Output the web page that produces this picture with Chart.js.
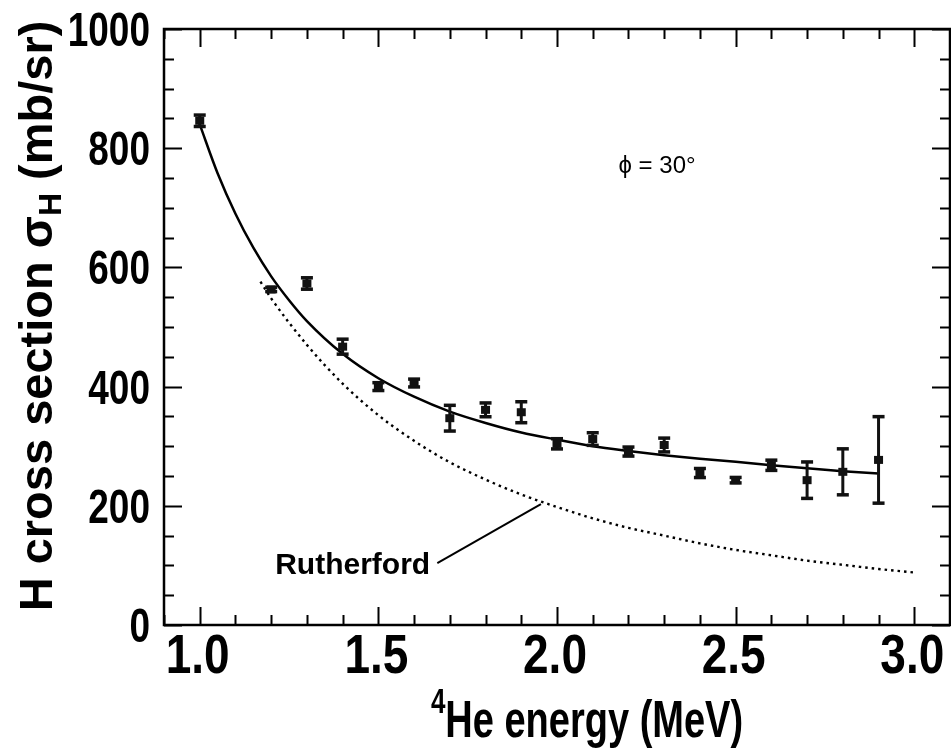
<!DOCTYPE html>
<html>
<head>
<meta charset="utf-8">
<script src="https://cdn.jsdelivr.net/npm/chart.js@4.4.1/dist/chart.umd.min.js"></script>
<style>
  html, body { margin: 0; padding: 0; background: #fff; }
  #c { display: block; }
</style>
</head>
<body>
<canvas id="c" width="951" height="752"></canvas>
<script>
// Measured H cross sections (mb/sr) at phi = 30 deg, with one-sigma errors
const energy   = [1.0, 1.2, 1.3, 1.4, 1.5, 1.6, 1.7, 1.8, 1.9, 2.0, 2.1, 2.2, 2.3, 2.4, 2.5, 2.6, 2.7, 2.8, 2.9];
const sigma    = [846, 563, 573, 467, 400, 406, 347, 361, 357, 304, 312, 291, 302, 255, 243, 268, 243, 257, 277];
const sigmaErr = [ 10,   4,  10,  13,   7,   7,  22,  12,  18,   9,  11,   8,  12,   8,   5,   9,  31,  39,  73];

// Smooth fit through the measurements
const fitEnergy = [1.0, 1.05, 1.1, 1.15, 1.2, 1.25, 1.3, 1.4, 1.5, 1.6, 1.7, 1.8, 1.9, 2.0, 2.1, 2.2, 2.3, 2.4, 2.5, 2.6, 2.7, 2.8, 2.9];
const fitSigma  = [840, 758, 690, 633, 585, 545, 510, 455, 414, 383, 358, 339, 323, 311, 300, 292, 285, 279, 274, 268, 263, 258, 254];

// Rutherford cross section
const rutherfordEnergy = [1.17, 1.2, 1.3, 1.4, 1.5, 1.6, 1.7, 1.8, 1.9, 2.0, 2.1, 2.2, 2.3, 2.4, 2.5, 2.6, 2.7, 2.8, 2.9, 3.0];
const rutherfordSigma  = [576, 548, 470, 405, 352, 309, 273, 244, 219, 198, 179, 163, 150, 137, 126, 117, 108, 101, 94, 88];

// Leader from the "Rutherford" label to its curve
const leaderEnergy = [1.665, 1.955];
const leaderSigma  = [104, 203];

const xTicks = [1.0, 1.5, 2.0, 2.5, 3.0];
const yTicks = [0, 200, 400, 600, 800, 1000];

const FONT = '"Liberation Sans", Arial, Helvetica, sans-serif';
const toPts = (xs, ys) => xs.map((x, i) => ({ x: x, y: ys[i] }));

// Text drawn with a vertical stretch (tall, narrow lettering)
function tallText(ctx, text, x, y, font, k, align) {
  ctx.save();
  ctx.translate(x, y);
  ctx.scale(1, k);
  ctx.font = font;
  ctx.textAlign = align;
  ctx.textBaseline = 'alphabetic';
  ctx.fillText(text, 0, 0);
  ctx.restore();
}

// Frame with inward ticks on all four sides
const framePlugin = {
  id: 'frame',
  afterDatasetsDraw(chart) {
    const { ctx, chartArea: a, scales: { x, y } } = chart;
    ctx.save();
    ctx.strokeStyle = '#000';
    ctx.lineWidth = 2.5;
    ctx.strokeRect(a.left, a.top, a.right - a.left, a.bottom - a.top);
    ctx.lineWidth = 2;
    ctx.beginPath();
    for (let i = 9; i <= 31; i++) {
      const px = Math.round(x.getPixelForValue(i / 10)) + 0.5;
      const len = (i % 5 === 0) ? 18 : 10;
      ctx.moveTo(px, a.bottom); ctx.lineTo(px, a.bottom - len);
      ctx.moveTo(px, a.top); ctx.lineTo(px, a.top + len);
    }
    for (let v = 0; v <= 1000; v += 50) {
      const py = Math.round(y.getPixelForValue(v)) + 0.5;
      const len = (v % 200 === 0) ? 18 : 10;
      ctx.moveTo(a.left, py); ctx.lineTo(a.left + len, py);
      ctx.moveTo(a.right, py); ctx.lineTo(a.right - len, py);
    }
    ctx.stroke();
    ctx.restore();
  }
};

// Error bars and markers for the measurements
const errorBarPlugin = {
  id: 'errorBars',
  afterDatasetsDraw(chart) {
    const { ctx, scales: { x, y } } = chart;
    ctx.save();
    ctx.fillStyle = '#111';
    ctx.strokeStyle = '#111';
    energy.forEach((e, i) => {
      const px = x.getPixelForValue(e);
      const py = y.getPixelForValue(sigma[i]);
      const top = y.getPixelForValue(sigma[i] + sigmaErr[i]);
      const bot = y.getPixelForValue(sigma[i] - sigmaErr[i]);
      ctx.lineWidth = 3;
      ctx.beginPath();
      ctx.moveTo(px, top); ctx.lineTo(px, bot);
      ctx.stroke();
      ctx.fillRect(px - 6, top - 1.5, 12, 3.5);
      ctx.fillRect(px - 6, bot - 2, 12, 3.5);
      ctx.fillRect(px - 4.5, py - 4, 9, 8);
    });
    ctx.restore();
  }
};

// Tick labels, axis titles and annotations
const textPlugin = {
  id: 'texts',
  afterDraw(chart) {
    const { ctx, chartArea: a, scales: { x, y } } = chart;
    ctx.save();
    ctx.fillStyle = '#000';

    // tick labels
    y.ticks.forEach(t => {
      tallText(ctx, String(t.value), a.left - 14, y.getPixelForValue(t.value) + 17,
               'bold 37px ' + FONT, 1.3, 'right');
    });
    x.ticks.forEach(t => {
      tallText(ctx, t.value.toFixed(1), x.getPixelForValue(t.value) - 2, a.bottom + 48,
               'bold 46px ' + FONT, 1.2, 'center');
    });

    // y title with subscript
    const big = 'bold 47px ' + FONT, small = 'bold 32px ' + FONT;
    const segs = [
      { t: 'H cross section \u03C3', f: big, dy: 0 },
      { t: 'H', f: small, dy: 9 },
      { t: ' (mb/sr)', f: big, dy: 0 }
    ];
    let total = 0;
    segs.forEach(s => { ctx.font = s.f; s.w = ctx.measureText(s.t).width; total += s.w; });
    ctx.save();
    ctx.translate(52, 316);
    ctx.rotate(-Math.PI / 2);
    ctx.textBaseline = 'alphabetic';
    let cx = -total / 2;
    segs.forEach(s => { ctx.font = s.f; ctx.fillText(s.t, cx, s.dy); cx += s.w; });
    ctx.restore();

    // x title with superscript
    const xs = [
      { t: '4', f: 'bold 26px ' + FONT, dy: -24 },
      { t: 'He energy (MeV)', f: 'bold 38px ' + FONT, dy: 0 }
    ];
    total = 0;
    xs.forEach(s => { ctx.font = s.f; s.w = ctx.measureText(s.t).width; total += s.w; });
    cx = 587 - total / 2;
    xs.forEach(s => {
      tallText(ctx, s.t, cx, 737 + s.dy, s.f, 1.35, 'left');
      cx += s.w;
    });

    // angle label
    ctx.font = '24px ' + FONT;
    ctx.textAlign = 'center';
    ctx.textBaseline = 'alphabetic';
    ctx.fillText('\u03D5 = 30\u00B0', x.getPixelForValue(2.28), y.getPixelForValue(758));

    // curve label
    ctx.font = 'bold 30px ' + FONT;
    ctx.textAlign = 'right';
    ctx.fillText('Rutherford', x.getPixelForValue(1.645), y.getPixelForValue(86));
    ctx.restore();
  }
};

new Chart(document.getElementById('c'), {
  type: 'scatter',
  data: {
    datasets: [
      {
        label: 'fit',
        data: toPts(fitEnergy, fitSigma),
        showLine: true,
        borderColor: '#000',
        borderWidth: 2.5,
        pointRadius: 0,
        cubicInterpolationMode: 'monotone'
      },
      {
        label: 'Rutherford',
        data: toPts(rutherfordEnergy, rutherfordSigma),
        showLine: true,
        borderColor: '#000',
        borderWidth: 2.4,
        borderDash: [2.5, 4],
        pointRadius: 0,
        cubicInterpolationMode: 'monotone'
      },
      {
        label: 'leader',
        data: toPts(leaderEnergy, leaderSigma),
        showLine: true,
        borderColor: '#000',
        borderWidth: 2,
        pointRadius: 0
      }
    ]
  },
  options: {
    responsive: false,
    animation: false,
    devicePixelRatio: 1,
    layout: { padding: { top: 29, right: 1, left: 0, bottom: 0 } },
    plugins: { legend: { display: false }, tooltip: { enabled: false } },
    scales: {
      x: {
        type: 'linear',
        min: 0.9, max: 3.1,
        grid: { display: false, drawTicks: false },
        border: { display: false },
        afterBuildTicks: s => { s.ticks = xTicks.map(v => ({ value: v })); },
        afterFit: s => { s.height = 127; },
        ticks: { display: false }
      },
      y: {
        type: 'linear',
        min: 0, max: 1000,
        grid: { display: false, drawTicks: false },
        border: { display: false },
        afterBuildTicks: s => { s.ticks = yTicks.map(v => ({ value: v })); },
        afterFit: s => { s.width = 164; },
        ticks: { display: false }
      }
    }
  },
  plugins: [framePlugin, errorBarPlugin, textPlugin]
});
</script>
</body>
</html>
